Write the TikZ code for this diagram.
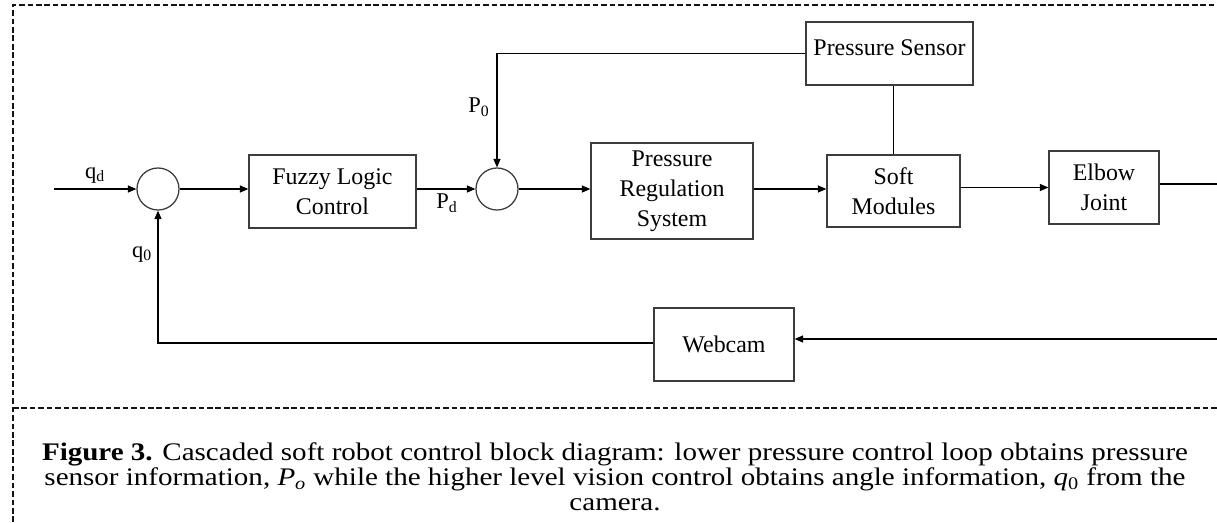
\documentclass[tikz,border=0pt]{standalone}
\usepackage{fontspec}
\setmainfont{Liberation Serif}
\usepackage{tikz}
\usetikzlibrary{arrows.meta,calc}
\definecolor{boxGray}{RGB}{60, 60, 60}
\definecolor{frameBlack}{RGB}{20, 20, 20}

\begin{document}
\begin{tikzpicture}[x=0.025cm, y=-0.025cm, line width=0.75pt,
    blockBox/.style={draw=boxGray, line width=0.9pt, align=center, inner sep=0pt,
        font=\fontsize{17}{21.5}\selectfont},
    sumCircle/.style={draw=boxGray, line width=0.9pt, circle, minimum size=1.05cm, inner sep=0pt},
    sigArrow/.style={-{Triangle[length=6pt,width=5pt]}},
    sigLabel/.style={font=\fontsize{16}{18}\selectfont, inner sep=0pt},
    frameDash/.style={frameBlack, line width=0.8pt, dash pattern=on 4pt off 2pt}]
    \useasboundingbox (0,0) rectangle (1217,522);
    % frame of the figure
    \draw[frameDash] (13,522) -- (13,5) -- (1217,5);
    \draw[frameDash] (13,408) -- (1217,408);
    % blocks
    \node[sumCircle] (sum1) at (158,189) {};
    \node[blockBox, minimum width=4.175cm, minimum height=1.825cm] (fuzzy) at (332.5,191.5) {Fuzzy Logic\\Control};
    \node[sumCircle] (sum2) at (497,189) {};
    \node[blockBox, minimum width=4.05cm, minimum height=2.4cm] (prs) at (672,191) {Pressure\\Regulation\\System};
    \node[blockBox, minimum width=4.175cm, minimum height=1.575cm, text depth=8pt] (sensor) at (889.5,53.5) {Pressure Sensor};
    \node[blockBox, minimum width=3.325cm, minimum height=1.8cm] (soft) at (893.5,191) {Soft\\Modules};
    \node[blockBox, minimum width=2.75cm, minimum height=1.825cm] (elbow) at (1104,187.5) {Elbow\\Joint};
    \node[blockBox, minimum width=3.5cm, minimum height=1.825cm] (webcam) at (724,344.5) {Webcam};
    % free ends
    \coordinate (qIn) at (54,189);
    \coordinate (outEnd) at (1217,184);
    \coordinate (retStart) at (1217,339);
    % forward path
    \draw[sigArrow] (qIn) -- (sum1.west);
    \draw[sigArrow] (sum1.east) -- (sum1.east -| fuzzy.west);
    \draw[sigArrow] (sum1.east -| fuzzy.east) -- (sum2.west);
    \draw[sigArrow] (sum2.east) -- (sum2.east -| prs.west);
    \draw[sigArrow] (sum2.east -| prs.east) -- (sum2.east -| soft.west);
    \draw[sigArrow] (soft.east |- elbow.west) -- (elbow.west);
    \draw (elbow.east |- outEnd) -- (outEnd);
    % feedback paths
    \draw (soft.north) -- (soft.north |- sensor.south);
    \draw[sigArrow] (sensor.west) -| (sum2.north);
    \draw[sigArrow] (retStart) -- (retStart -| webcam.east);
    \draw[sigArrow] ($(webcam.west)+(0,-1.5)$) -| (sum1.south);
    % signal labels
    \node[sigLabel] (qd) at (95,175) {q\textsubscript{d}};
    \node[sigLabel] (q0) at (142,254) {q\textsubscript{0}};
    \node[sigLabel] (pd) at (447,203) {P\textsubscript{d}};
    \node[sigLabel] (p0) at (479,107) {P\textsubscript{0}};
    % caption
    \node[align=center, inner sep=0pt, xscale=1.147, transform shape,
        font=\fontsize{18}{17.8}\selectfont] (caption) at (615,477)
        {\textbf{Figure 3.} Cascaded soft robot control block diagram: lower pressure control loop obtains pressure\\
        sensor information, \textit{P}\textsubscript{\textit{o}} while the higher level vision control obtains angle information, \textit{q}\textsubscript{0} from the\\
        camera.};
\end{tikzpicture}
\end{document}
